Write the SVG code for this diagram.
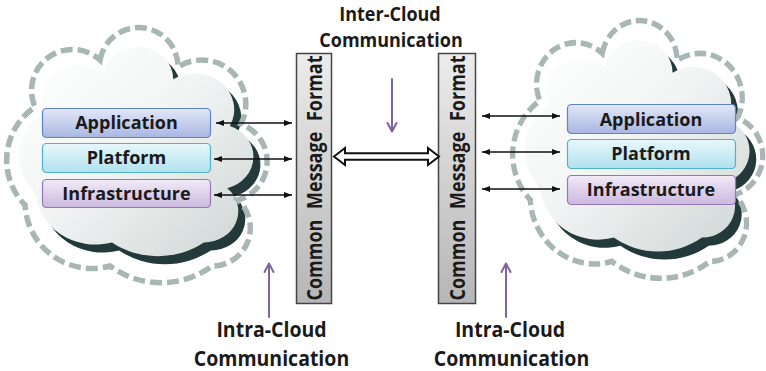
<svg xmlns="http://www.w3.org/2000/svg" xmlns:xlink="http://www.w3.org/1999/xlink" width="766" height="371" viewBox="0 0 766 371">
  <style>
    .lbl { font-family: "Open Sans", "Liberation Sans", sans-serif; font-weight: 700; fill: #1a1a1a; text-anchor: middle; }
    .box-lbl { font-size: 18px; }
    .head-lbl { font-size: 18px; }
    .foot-lbl { font-size: 19.5px; }
    .bar-lbl { font-size: 18px; word-spacing: 6px; }
    .dash { fill: none; stroke: #a8b7b4; stroke-width: 5.5; stroke-dasharray: 12 5; }
    .shade { fill: #243a3a; }
    .bar { fill: url(#barFill); stroke: #454545; stroke-width: 1.5; }
    .link { stroke: #111; stroke-width: 1.7; fill: none; marker-end: url(#tip); marker-start: url(#tip); }
    .purple { stroke: #8064a2; stroke-width: 2; fill: none; stroke-linecap: round; stroke-linejoin: round; }
    .app { fill: url(#appFill); stroke: #5f82c9; stroke-width: 1.2; }
    .plat { fill: url(#platFill); stroke: #4fb2ca; stroke-width: 1.2; }
    .infra { fill: url(#infraFill); stroke: #9676b6; stroke-width: 1.2; }
  </style>
  <defs>
    <!-- cloud outline built from circular bumps -->
    <path id="cloud" d="M100,60 A39.3,39.3 0 0,1 178,67 A44,44 0 0,1 241,124 A40,40 0 0,1 238,200 A38,38 0 0,1 212,266 A86,86 0 0,1 110,266 A67,67 0 0,1 25,205 A64,64 0 0,1 35,107 A41,41 0 0,1 100,60 Z"/>
    <linearGradient id="cloudFill" x1="0" y1="0" x2="1" y2="1">
      <stop offset="0" stop-color="#ffffff"/>
      <stop offset="0.45" stop-color="#f3f5f5"/>
      <stop offset="1" stop-color="#cdd5d3"/>
    </linearGradient>
    <linearGradient id="barFill" x1="0" y1="0" x2="0" y2="1">
      <stop offset="0" stop-color="#ececec"/>
      <stop offset="1" stop-color="#b6b6b6"/>
    </linearGradient>
    <linearGradient id="appFill" x1="0" y1="0" x2="0" y2="1">
      <stop offset="0" stop-color="#e3e8f8"/>
      <stop offset="1" stop-color="#a8b6e1"/>
    </linearGradient>
    <linearGradient id="platFill" x1="0" y1="0" x2="0" y2="1">
      <stop offset="0" stop-color="#e8f8fc"/>
      <stop offset="1" stop-color="#b0e1ee"/>
    </linearGradient>
    <linearGradient id="infraFill" x1="0" y1="0" x2="0" y2="1">
      <stop offset="0" stop-color="#f1ebf7"/>
      <stop offset="1" stop-color="#cbb8df"/>
    </linearGradient>
    <marker id="tip" viewBox="0 0 8 6" refX="8" refY="3" markerWidth="8" markerHeight="6" markerUnits="userSpaceOnUse" orient="auto-start-reverse">
      <path d="M0,0 L8,3 L0,6 Z" fill="#111"/>
    </marker>
  </defs>

  <!-- left cloud -->
  <g id="cloud-left">
    <use xlink:href="#cloud" class="shade" transform="translate(7,8) translate(130,135) scale(0.9,0.82) translate(-130,-135)"/>
    <use xlink:href="#cloud" fill="url(#cloudFill)" transform="translate(130,135) scale(0.9,0.82) translate(-130,-135)"/>
    <use xlink:href="#cloud" class="dash"/>
  </g>

  <!-- right cloud -->
  <g id="cloud-right">
    <g transform="translate(513,18) scale(0.96,1.01) translate(-7,-25)">
      <use xlink:href="#cloud" class="shade" transform="translate(7,8) translate(130,135) scale(0.9,0.82) translate(-130,-135)"/>
      <use xlink:href="#cloud" fill="url(#cloudFill)" transform="translate(130,135) scale(0.9,0.82) translate(-130,-135)"/>
      <use xlink:href="#cloud" class="dash"/>
    </g>
  </g>

  <!-- left stack -->
  <g id="left-application">
    <rect class="app" x="42.5" y="108.5" width="168" height="29" rx="4"/>
    <text class="lbl box-lbl" x="126.5" y="129">Application</text>
  </g>
  <g id="left-platform">
    <rect class="plat" x="42.5" y="143.5" width="168" height="29" rx="4"/>
    <text class="lbl box-lbl" x="126.5" y="164">Platform</text>
  </g>
  <g id="left-infrastructure">
    <rect class="infra" x="42.5" y="179.5" width="168" height="28" rx="4"/>
    <text class="lbl box-lbl" x="126.5" y="199.5">Infrastructure</text>
  </g>

  <!-- right stack -->
  <g id="right-application">
    <rect class="app" x="567.5" y="104.5" width="168" height="29" rx="4"/>
    <text class="lbl box-lbl" x="651" y="125.5">Application</text>
  </g>
  <g id="right-platform">
    <rect class="plat" x="567.5" y="139.5" width="168" height="29" rx="4"/>
    <text class="lbl box-lbl" x="651" y="160">Platform</text>
  </g>
  <g id="right-infrastructure">
    <rect class="infra" x="567.5" y="175.5" width="168" height="29" rx="4"/>
    <text class="lbl box-lbl" x="651" y="196">Infrastructure</text>
  </g>

  <!-- message format bars (glyphs stretched slightly across the bar) -->
  <g id="cmf-left">
    <rect class="bar" x="296.5" y="53.5" width="35" height="250"/>
    <text class="lbl bar-lbl" transform="translate(322,178) rotate(-90) scale(1,1.14)">Common Message Format</text>
  </g>
  <g id="cmf-right">
    <rect class="bar" x="438.5" y="53.5" width="37" height="250"/>
    <text class="lbl bar-lbl" transform="translate(464.5,178) rotate(-90) scale(1,1.14)">Common Message Format</text>
  </g>

  <!-- captions -->
  <g id="inter-cloud-label">
    <text class="lbl head-lbl" transform="translate(390,20.5) scale(1,1.09)">Inter-Cloud</text>
    <text class="lbl head-lbl" transform="translate(391,46.5) scale(1,1.09)">Communication</text>
  </g>
  <g id="intra-cloud-left-label">
    <text class="lbl foot-lbl" transform="translate(271.5,337) scale(1,1.1)">Intra-Cloud</text>
    <text class="lbl foot-lbl" transform="translate(271.5,366) scale(1,1.1)">Communication</text>
  </g>
  <g id="intra-cloud-right-label">
    <text class="lbl foot-lbl" transform="translate(510,337) scale(1,1.1)">Intra-Cloud</text>
    <text class="lbl foot-lbl" transform="translate(511.5,366) scale(1,1.1)">Communication</text>
  </g>

  <!-- connectors -->
  <g id="connectors">
    <line class="link" x1="216" y1="123" x2="292" y2="123"/>
    <line class="link" x1="214" y1="159" x2="292" y2="159"/>
    <line class="link" x1="214" y1="195" x2="292" y2="195"/>
    <line class="link" x1="482" y1="116" x2="560" y2="116"/>
    <line class="link" x1="482" y1="152" x2="560" y2="152"/>
    <line class="link" x1="482" y1="189" x2="560" y2="189"/>
    <path d="M334,156.5 L345,148 L345,153.2 L428,153.2 L428,148 L439,156.5 L428,165 L428,159.8 L345,159.8 L345,165 Z" fill="#fff" stroke="#111" stroke-width="2" stroke-linejoin="miter"/>
    <path class="purple" d="M392,79 L392,131.5 M387.5,123 L392,131.5 L396.5,123"/>
    <path class="purple" d="M269,317 L269,263.5 M264.5,272 L269,263.5 L273.5,272"/>
    <path class="purple" d="M506,317 L506,263.5 M501.5,272 L506,263.5 L510.5,272"/>
  </g>
</svg>
